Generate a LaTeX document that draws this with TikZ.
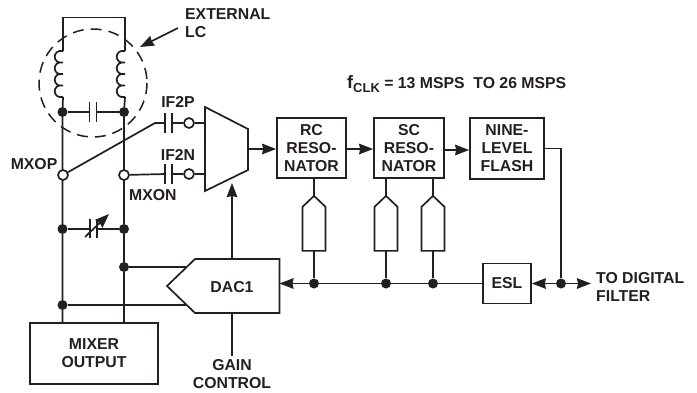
\documentclass[tikz,border=0pt]{standalone}
\usepackage{fontspec}
\setmainfont{Liberation Sans}
\usetikzlibrary{arrows.meta,positioning,calc}
\definecolor{ink}{HTML}{231F20}
\tikzset{wire/.style={line width=1.7pt,draw=ink},
  flow/.style={wire,-{Stealth[length=14pt,width=10.5pt,inset=1pt]}},
  lbl/.style={font=\bfseries\fontsize{15.8}{18}\selectfont,text=ink,inner sep=0pt,align=center},
  blk/.style={wire,rectangle,inner sep=0pt,font=\bfseries\fontsize{15.8}{18}\selectfont,text=ink,align=center},
  dot/.style={circle,fill=ink,inner sep=0pt,minimum size=10pt},
  port/.style={circle,wire,fill=white,inner sep=0pt,minimum size=10pt},
  plate/.style={line width=1.7pt,draw=ink}}
\begin{document}
\begin{tikzpicture}[x=1pt,y=-1pt]
\useasboundingbox (0,0) rectangle (697,392);
% blocks
\node[blk,minimum width=69pt,minimum height=60pt] (rc) at (311.5,148) {RC\\RESO-\\NATOR};
\node[blk,minimum width=70pt,minimum height=60pt] (sc) at (409,148) {SC\\RESO-\\NATOR};
\node[blk,minimum width=74pt,minimum height=61pt] (flash) at (507,148.5) {NINE-\\LEVEL\\FLASH};
\node[blk,minimum width=48pt,minimum height=40pt] (esl) at (507,283.5) {ESL};
\node[blk,minimum width=128pt,minimum height=61pt] (mixer) at (94,353.5) {MIXER\\OUTPUT};
% tank
\node[dot] (tl) at (62.5,112) {};
\node[dot] (tr) at (124,112) {};
\node[dot] (vl) at (62.5,229) {};
\node[dot] (vr) at (124,229) {};
\node[dot] (dacr) at (124,267) {};
\node[dot] (dacl) at (62.5,305) {};
\coordinate (lctl) at (63,17.5);
\coordinate (lctr) at (125,17.5);
\foreach \n/\x in {l/63,r/125}{
 \coordinate (top\n) at (\x,51);
 \coordinate (bot\n) at (\x,97);
 \draw[wire] (top\n) \foreach \b in {0,1,2,3}{
   .. controls +(-11,-2) and +(-11,2) .. ++(0,11.5)};
}
\draw[wire] (topl) -- (lctl) -- (lctr) -- (topr);
\draw[wire] (botl) -- (tl) -- (vl) -- (dacl) -- (dacl|-mixer.north);
\draw[wire] (botr) -- (tr) -- (vr) -- (dacr) -- (dacr|-mixer.north);
\node[port] (mxop) at (63,175) {};
\node[port] (mxon) at (124,175) {};
\draw[ink,line width=1.5pt,dash pattern=on 11pt off 7pt] (93,83) circle (54);
\coordinate (lcfrom) at (178,28);
\coordinate (lcto) at (140,47);
\draw[flow] (lcfrom) -- (lcto);
% fixed cap
\coordinate (cl) at (89.5,112);
\coordinate (cr) at (96.5,112);
\draw[wire] (tl) -- (cl) (cr) -- (tr);
\draw[plate] (89.5,102) -- (89.5,122) (96.5,102) -- (96.5,122);
% variable cap
\coordinate (vcl) at (90,229);
\coordinate (vcr) at (97,229);
\draw[wire] (vl) -- (vcl) (vcr) -- (vr);
\draw[plate] (90,219) -- (90,238) (97,219) -- (97,238);
\draw[flow] (85,237) -- (109,214);
% mux
\coordinate (muxa) at (205,107);
\coordinate (muxb) at (248,129);
\coordinate (muxc) at (248,170);
\coordinate (muxd) at (205,191);
\draw[wire] (muxa) -- (muxb) -- (muxc) -- (muxd) -- cycle;
\coordinate (muxo) at (248,149);
\coordinate (muxg) at (232,183);
% inputs
\foreach \n/\y in {p/123,n/174}{
 \node[port] (if\n) at (189,\y) {};
 \coordinate (capa\n) at (165,\y);
 \coordinate (capb\n) at (172,\y);
 \coordinate (mux\n) at (205,\y);
 \draw[plate] (165,\y-10) -- (165,\y+10) (172,\y-10) -- (172,\y+10);
 \draw[wire] (capb\n) -- (if\n) -- (mux\n);
}
\coordinate (bend) at (155,123);
\draw[wire] (mxop) -- (bend) -- (capap);
\draw[wire] (mxon) -- (capan);
% dac
\coordinate (dacp) at (167,286);
\coordinate (dacu) at (195,259);
\coordinate (dacv) at (279.5,259);
\coordinate (dacw) at (279.5,313);
\coordinate (dacx) at (195,313);
\draw[wire] (dacp) -- (dacu) -- (dacv) -- (dacw) -- (dacx) -- cycle;
\node[lbl] (dac) at (232,287) {DAC1};
\coordinate (dacin) at (279.5,283.5);
\coordinate (dact) at (232,259);
\coordinate (dacb) at (232,313);
\coordinate (edgeu) at (186,267);
\coordinate (edgel) at (186,305);
\draw[wire] (dacr) -- (edgeu);
\draw[wire] (dacl) -- (edgel);
\draw[flow] (dact) -- (muxg);
\node[lbl] (gain) at (232,374) {GAIN\\CONTROL};
\draw[wire,shorten >=3pt] (dacb) -- (gain.north);
% signal path
\draw[flow] (muxo) -- ([yshift=-1pt]rc.west);
\draw[flow] ([yshift=-1pt]rc.east) -- ([yshift=-1pt]sc.west);
\draw[flow] ([yshift=-2pt]sc.east) -- ([yshift=-2pt]sc.east-|flash.west);
% feedback
\node[dot] (fa) at (314,283.5) {};
\node[dot] (fb) at (386,283.5) {};
\node[dot] (fc) at (433,283.5) {};
\node[dot] (fd) at (561,283.5) {};
\draw[flow] (fa) -- (dacin);
\draw[wire] (esl.west) -- (fc) -- (fb) -- (fa);
\coordinate (flashout) at (flash.east);
\draw[wire] (flashout) -| (fd);
\draw[flow] (fd) -- (esl.east);
\coordinate (outend) at (591,283.5);
\draw[flow] (fd) -- (outend);
\foreach \n/\f in {a/fa,b/fb,c/fc}{
 \coordinate (stub\n) at (\f|-rc.south);
 \coordinate (apex\n) at ($(\f|-rc.south)+(0,17)$);
 \coordinate (base\n) at ($(\f|-rc.south)+(0,72)$);
 \draw[wire] (stub\n) -- (apex\n);
 \draw[wire] (apex\n) -- ++(11.5,11) -- ++(0,44) -- ++(-23,0) -- ++(0,-44) -- cycle;
 \draw[wire] (base\n) -- (\f);
}
% labels
\node[lbl,anchor=west,align=left] (ext) at (185,23) {EXTERNAL\\LC};
\node[lbl] (ifp) at (178,102) {IF2P};
\node[lbl] (ifn) at (178,155) {IF2N};
\node[lbl,anchor=east] (mxoplbl) at (57.5,164) {MXOP};
\node[lbl,anchor=west] (mxonlbl) at (129,195) {MXON};
\node[lbl,anchor=west,align=left] (tod) at (596,287) {TO DIGITAL\\FILTER};
\node[lbl,anchor=west] (fclk) at (347,84) {{\fontsize{18}{18}\selectfont f}{\fontsize{13}{13}\selectfont\raisebox{-3.5pt}{CLK}} = 13 MSPS\ \ TO 26 MSPS};
\end{tikzpicture}
\end{document}
